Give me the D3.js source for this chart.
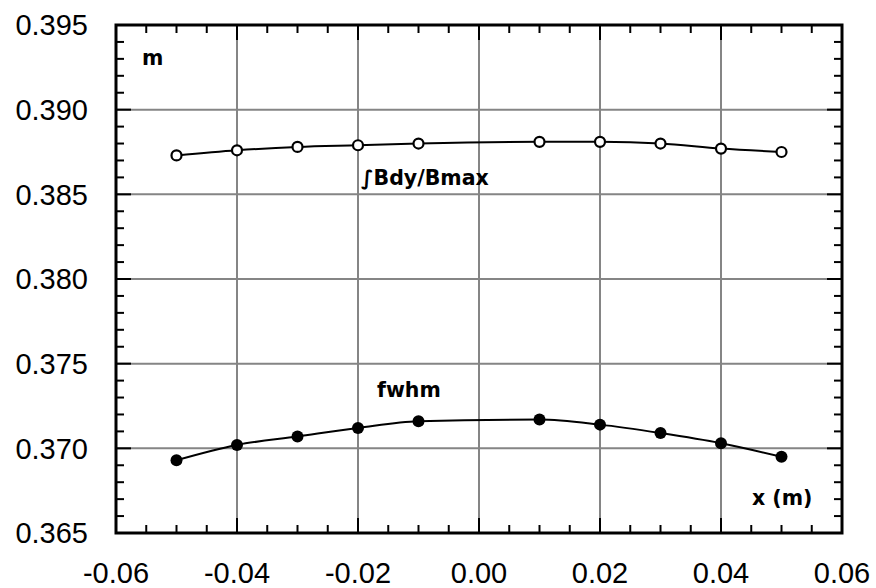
<!DOCTYPE html>
<html>
<head>
<meta charset="utf-8">
<script src="https://cdn.jsdelivr.net/npm/d3@7"></script>
<style>
  html, body { margin: 0; padding: 0; background: #fff; }
  svg { display: block; }
</style>
</head>
<body>
<svg id="chart" width="876" height="588"></svg>
<script>
// Measurement positions along x (m)
const xPositions = [-0.05, -0.04, -0.03, -0.02, -0.01, 0.01, 0.02, 0.03, 0.04, 0.05];
// Integrated field over peak field, ∫Bdy/Bmax (m)
const intBdyOverBmax = [0.3873, 0.3876, 0.3878, 0.3879, 0.3880, 0.3881, 0.3881, 0.3880, 0.3877, 0.3875];
// Full width at half maximum (m)
const fwhm = [0.3693, 0.3702, 0.3707, 0.3712, 0.3716, 0.3717, 0.3714, 0.3709, 0.3703, 0.3695];

const xTicks = [-0.06, -0.04, -0.02, 0.00, 0.02, 0.04, 0.06];
const yTicks = [0.365, 0.370, 0.375, 0.380, 0.385, 0.390, 0.395];

const svg = d3.select("#chart");
const plotL = 116, plotR = 842, plotT = 25, plotB = 533;

const x = d3.scaleLinear().domain([-0.06, 0.06]).range([plotL, plotR]);
const y = d3.scaleLinear().domain([0.365, 0.395]).range([plotB, plotT]);

// Grid lines at major ticks
const grid = svg.append("g").attr("stroke", "#858585").attr("stroke-width", 2);
xTicks.slice(1, -1).forEach(v => {
  grid.append("line").attr("x1", x(v)).attr("x2", x(v)).attr("y1", plotT).attr("y2", plotB);
});
yTicks.slice(1, -1).forEach(v => {
  grid.append("line").attr("x1", plotL).attr("x2", plotR).attr("y1", y(v)).attr("y2", y(v));
});

// Inward ticks on all four sides
const majorLen = 15, minorLen = 8;
const ticks = svg.append("g").attr("stroke", "#000").attr("stroke-width", 2);
const xMinor = d3.range(-0.06, 0.0601, 0.005);
xMinor.forEach(v => {
  const major = xTicks.some(t => Math.abs(t - v) < 1e-9);
  const len = major ? majorLen : minorLen;
  ticks.append("line").attr("x1", x(v)).attr("x2", x(v)).attr("y1", plotB).attr("y2", plotB - len);
  ticks.append("line").attr("x1", x(v)).attr("x2", x(v)).attr("y1", plotT).attr("y2", plotT + len);
});
const yMinor = d3.range(0.365, 0.39501, 0.001);
yMinor.forEach(v => {
  const major = yTicks.some(t => Math.abs(t - v) < 1e-9);
  const len = major ? majorLen : minorLen;
  ticks.append("line").attr("x1", plotL).attr("x2", plotL + len).attr("y1", y(v)).attr("y2", y(v));
  ticks.append("line").attr("x1", plotR).attr("x2", plotR - len).attr("y1", y(v)).attr("y2", y(v));
});

// Frame
svg.append("rect")
  .attr("x", plotL).attr("y", plotT)
  .attr("width", plotR - plotL).attr("height", plotB - plotT)
  .attr("fill", "none").attr("stroke", "#000").attr("stroke-width", 3);

// Tick labels
const tickFont = "'Liberation Sans', Arial, sans-serif";
svg.append("g").selectAll("text").data(yTicks).join("text")
  .attr("x", 88).attr("y", d => y(d)).attr("dy", "0.36em")
  .attr("text-anchor", "end")
  .attr("font-family", tickFont).attr("font-size", 29)
  .text(d => d3.format(".3f")(d));
svg.append("g").selectAll("text").data(xTicks).join("text")
  .attr("x", d => x(d)).attr("y", 583)
  .attr("text-anchor", "middle")
  .attr("font-family", tickFont).attr("font-size", 29)
  .text(d => d3.format(".2f")(d).replace("−", "-"));

// Series lines
const pts = vals => xPositions.map((xv, i) => [xv, vals[i]]);
const line = d3.line().x(d => x(d[0])).y(d => y(d[1])).curve(d3.curveMonotoneX);

svg.append("path").datum(pts(intBdyOverBmax))
  .attr("d", line).attr("fill", "none").attr("stroke", "#000").attr("stroke-width", 2);
svg.append("path").datum(pts(fwhm))
  .attr("d", line).attr("fill", "none").attr("stroke", "#000").attr("stroke-width", 2);

// Markers
svg.append("g").selectAll("circle").data(pts(intBdyOverBmax)).join("circle")
  .attr("cx", d => x(d[0])).attr("cy", d => y(d[1])).attr("r", 5)
  .attr("fill", "#fff").attr("stroke", "#000").attr("stroke-width", 2.2);
svg.append("g").selectAll("circle").data(pts(fwhm)).join("circle")
  .attr("cx", d => x(d[0])).attr("cy", d => y(d[1])).attr("r", 6)
  .attr("fill", "#000");

// Annotations
const labFont = "'DejaVu Sans', Verdana, sans-serif";
const ann = [
  { t: "m", x: 142, y: 65 },
  { t: "∫Bdy/Bmax", x: 361, y: 185 },
  { t: "fwhm", x: 377, y: 397 },
  { t: "x (m)", x: 752, y: 505 }
];
svg.append("g").selectAll("text").data(ann).join("text")
  .attr("x", d => d.x).attr("y", d => d.y)
  .attr("font-family", labFont).attr("font-weight", "bold").attr("font-size", 20.5)
  .text(d => d.t);
</script>
</body>
</html>
